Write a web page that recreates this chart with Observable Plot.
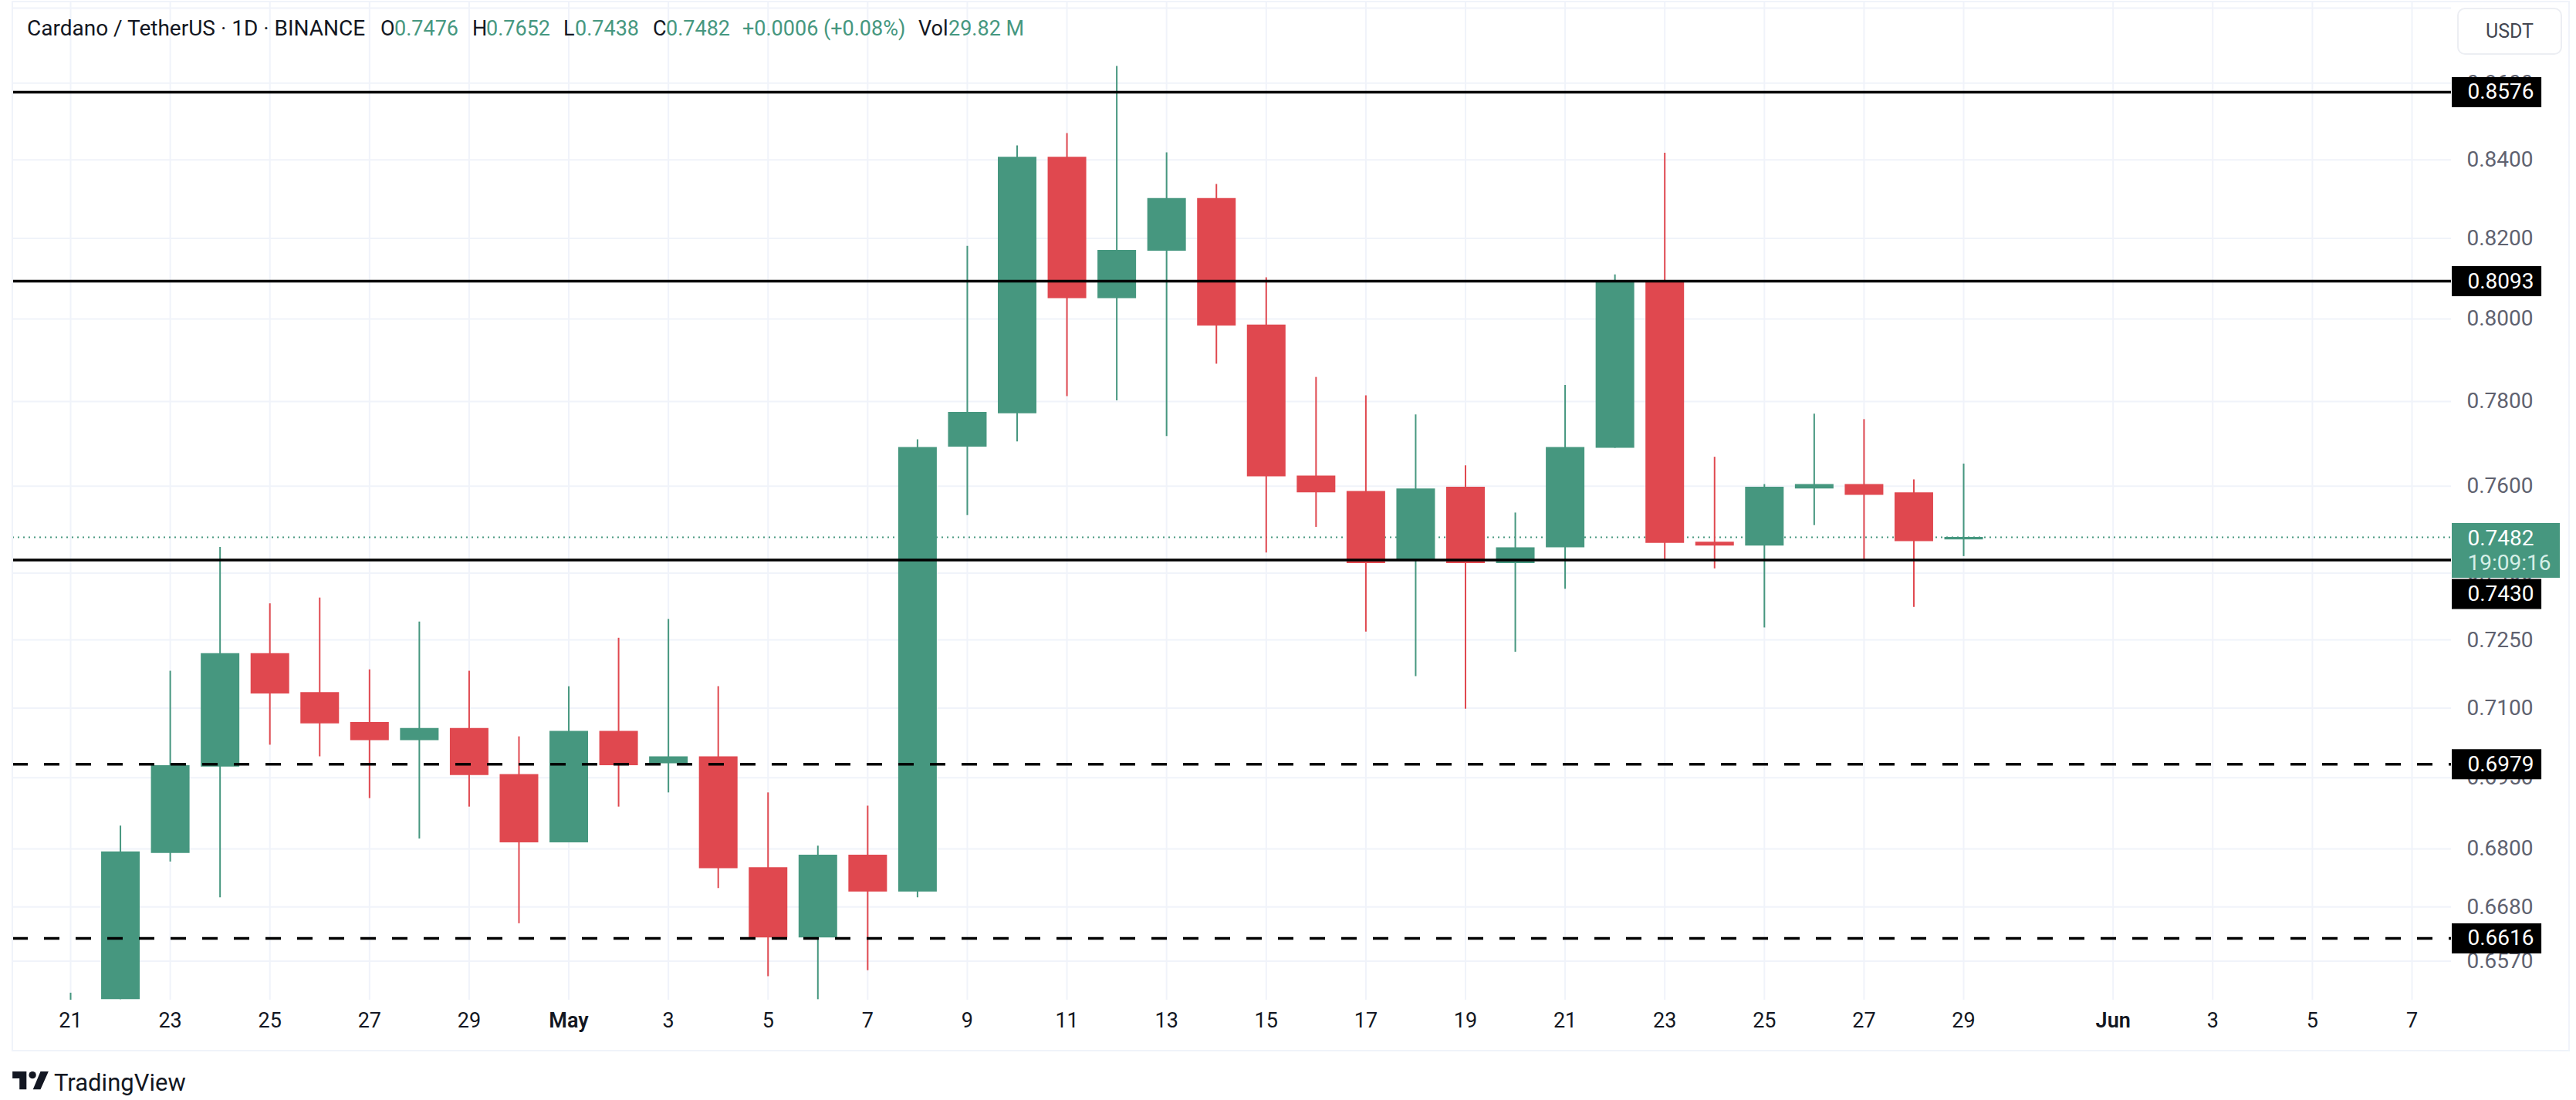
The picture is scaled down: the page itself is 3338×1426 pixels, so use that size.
<!DOCTYPE html>
<html>
<head>
<meta charset="utf-8">
<script src="https://cdn.jsdelivr.net/npm/d3@7"></script>
<script src="https://cdn.jsdelivr.net/npm/@observablehq/plot@0.6"></script>
<style>
html,body{margin:0;padding:0;background:#fff;}
#wrap{position:relative;width:3338px;height:1426px;overflow:hidden;font-family:Roboto,sans-serif;}
#wrap svg{display:block;}
.h{position:absolute;top:20px;font-size:27px;line-height:34px;white-space:nowrap;}
#frame{position:absolute;left:15px;top:1px;width:3311px;height:1358px;border:2px solid #f0f3fa;}
#usdt{position:absolute;left:3184px;top:10px;width:132px;height:57px;border:2px solid #eceef3;border-radius:10px;font-size:25px;line-height:57px;text-align:center;color:#434651;background:#fff;}
#logo{position:absolute;left:16px;top:1389px;}
#tv{position:absolute;left:70px;top:1386px;font-size:31px;line-height:36px;color:#131722;}
</style>
</head>
<body>
<div id="wrap"></div>
<script>
const firstDay = new Date(Date.UTC(2025, 3, 21));
const lastDay = new Date(Date.UTC(2025, 4, 30));
const days = d3.utcDay.range(firstDay, lastDay);
const open  = [.6492,.6493,.6791,.6973,.7220,.7134,.7069,.7030,.7056,.6957,.6813,.7050,.6980,.6995,.6761,.6617,.6787,.6711,.7692,.7771,.8407,.8050,.8168,.8301,.7985,.7624,.7588,.7428,.7598,.7422,.7458,.7689,.8093,.7471,.7462,.7594,.7604,.7585,.7476];
const close = [.6492,.6794,.6976,.7220,.7131,.7066,.7030,.7056,.6955,.6813,.7050,.6976,.6995,.6759,.6617,.6787,.6711,.7691,.7774,.8407,.8050,.8170,.8301,.7983,.7622,.7585,.7422,.7594,.7422,.7458,.7691,.8093,.7468,.7462,.7598,.7604,.7579,.7472,.7482];
const high  = [.6506,.6848,.7181,.7459,.7331,.7344,.7184,.7290,.7181,.7038,.7147,.7254,.7296,.7147,.6918,.6806,.6890,.7709,.8180,.8436,.8468,.8644,.8418,.8337,.8102,.7858,.7814,.7768,.7648,.7538,.7839,.8109,.8417,.7668,.7604,.7770,.7757,.7615,.7652];
const low   = [.6492,.6493,.6773,.6699,.7020,.6995,.6906,.6821,.6888,.6646,.6813,.6888,.6918,.6718,.6539,.6493,.6551,.6699,.7532,.7704,.7812,.7802,.7717,.7890,.7446,.7505,.7268,.7169,.7098,.7223,.7364,.7689,.7429,.7410,.7277,.7509,.7429,.7323,.7438];
const candles = days.map((date,i)=>({date,open:open[i],close:close[i],high:high[i],low:low[i]}));

const priceTicks = [.86,.84,.82,.80,.78,.76,.74,.725,.71,.695,.68,.668,.657];
const gridOnly = [.88];
const solidLevels = [.8576,.8093];
const dashedLevels = [.6979,.6616];
const shiftedLevel = [.7430];
const lastPrice = [.7482];
const countdown = "19:09:16";
const tickDays = [...[21,23,25,27,29].map(d=>Date.UTC(2025,3,d)),
                  ...[3,5,7,9,11,13,15,17,19,21,23,25,27,29].map(d=>Date.UTC(2025,4,d)),
                  ...[3,5,7].map(d=>Date.UTC(2025,5,d))].map(t=>new Date(t));
const tickMonths = [new Date(Date.UTC(2025,4,1)), new Date(Date.UTC(2025,5,1))];
const domainX = [firstDay, new Date(Date.UTC(2025,5,7))];
const boxStart = new Date(Date.UTC(2025,5,7,19,20));
const boxEnd = new Date(Date.UTC(2025,5,9,14,30));
const wideBoxEnd = new Date(Date.UTC(2025,5,9,23,23));
const labelAt = new Date(Date.UTC(2025,5,8,2,46));

const UP="#46977f", DOWN="#e0484f", AXIS="#5f6270", INK="#131722";
const col = d=>d.close>=d.open?UP:DOWN;

const chart = Plot.plot({
  width:3338, height:1426,
  marginLeft:16, marginRight:162, marginTop:2, marginBottom:130,
  style:{background:"transparent",fontFamily:"Roboto, sans-serif",fontSize:"27px",overflow:"visible"},
  x:{type:"utc",domain:domainX,range:[91,3125]},
  y:{type:"log",domain:[.6616,.8576],range:[1216,119]},
  marks:[
    Plot.ruleY([...gridOnly,...priceTicks],{stroke:"#f0f3fa",strokeWidth:2}),
    Plot.ruleX([...tickDays,...tickMonths],{stroke:"#f0f3fa",strokeWidth:2}),
    Plot.ruleY(lastPrice,{stroke:UP,strokeWidth:2,strokeDasharray:"2,5"}),
    Plot.ruleX(candles,{x:"date",y1:"low",y2:"high",stroke:col,strokeWidth:2}),
    Plot.ruleX(candles,{x:"date",y1:"open",y2:"close",stroke:col,strokeWidth:50}),
    Plot.ruleY([...solidLevels,...shiftedLevel],{stroke:"#000",strokeWidth:3.5}),
    Plot.ruleY(dashedLevels,{stroke:"#000",strokeWidth:3.5,strokeDasharray:"20,21"}),
    Plot.axisX(tickDays,{anchor:"bottom",tickSize:0,tickPadding:16,stroke:null,fill:INK,
      tickFormat:d=>String(d.getUTCDate()),label:null,fontSize:27}),
    Plot.axisX(tickMonths,{anchor:"bottom",tickSize:0,tickPadding:16,stroke:null,fill:INK,
      tickFormat:d=>d3.utcFormat("%b")(d),label:null,fontSize:27,fontWeight:600}),
    Plot.axisY(priceTicks,{anchor:"right",tickSize:0,tickPadding:20,fill:AXIS,tickFormat:".4f",label:null,fontSize:28}),
    // value tags
    Plot.ruleY([...solidLevels,...dashedLevels],{x1:()=>boxStart,x2:()=>boxEnd,stroke:"#000",strokeWidth:39}),
    Plot.ruleY(shiftedLevel,{x1:()=>boxStart,x2:()=>boxEnd,stroke:"#000",strokeWidth:39,dy:44}),
    Plot.ruleY(lastPrice,{x1:()=>boxStart,x2:()=>wideBoxEnd,stroke:UP,strokeWidth:71,dy:17}),
    Plot.text([...solidLevels,...dashedLevels],{x:()=>labelAt,y:d=>d,text:d3.format(".4f"),textAnchor:"start",fill:"#fff",fontSize:28}),
    Plot.text(shiftedLevel,{x:()=>labelAt,y:d=>d,text:d3.format(".4f"),textAnchor:"start",fill:"#fff",fontSize:28,dy:44}),
    Plot.text(lastPrice,{x:()=>labelAt,y:d=>d,text:d3.format(".4f"),textAnchor:"start",fill:"#fff",fontSize:28,dy:2}),
    Plot.text(lastPrice,{x:()=>labelAt,y:d=>d,text:()=>countdown,textAnchor:"start",fill:"#d6efe7",fontSize:28,dy:34})
  ]
});

const wrap = document.getElementById("wrap");
const frame = document.createElement("div"); frame.id="frame"; wrap.appendChild(frame);
wrap.appendChild(chart);

const headerParts = [
  ["Cardano / TetherUS · 1D · BINANCE",35,INK,28],
  ["O",493,INK],["0.7476",511,UP],
  ["H",612,INK],["0.7652",630,UP],
  ["L",730,INK],["0.7438",745,UP],
  ["C",846,INK],["0.7482",863,UP],
  ["+0.0006 (+0.08%)",962,UP],
  ["Vol",1190,INK],["29.82 M",1229,UP]
];
for(const [t,x,c,fs] of headerParts){
  const s=document.createElement("div"); s.className="h"; s.textContent=t; s.style.left=x+"px"; s.style.color=c;
  if(fs) s.style.fontSize=fs+"px";
  wrap.appendChild(s);
}
const u=document.createElement("div"); u.id="usdt"; u.textContent="USDT"; wrap.appendChild(u);
const tv=document.createElement("div"); tv.id="tv"; tv.textContent="TradingView"; wrap.appendChild(tv);
const lg=document.createElement("div"); lg.id="logo";
lg.innerHTML='<svg width="47" height="24" viewBox="0 0 36 18.5"><path d="M14 0H0v7h7v11h7V0zM28 18h-7.5L28 0h8l-8 18z" fill="#131722"/><circle cx="20" cy="3.6" r="3.6" fill="#131722"/></svg>';
wrap.appendChild(lg);
</script>
</body>
</html>
